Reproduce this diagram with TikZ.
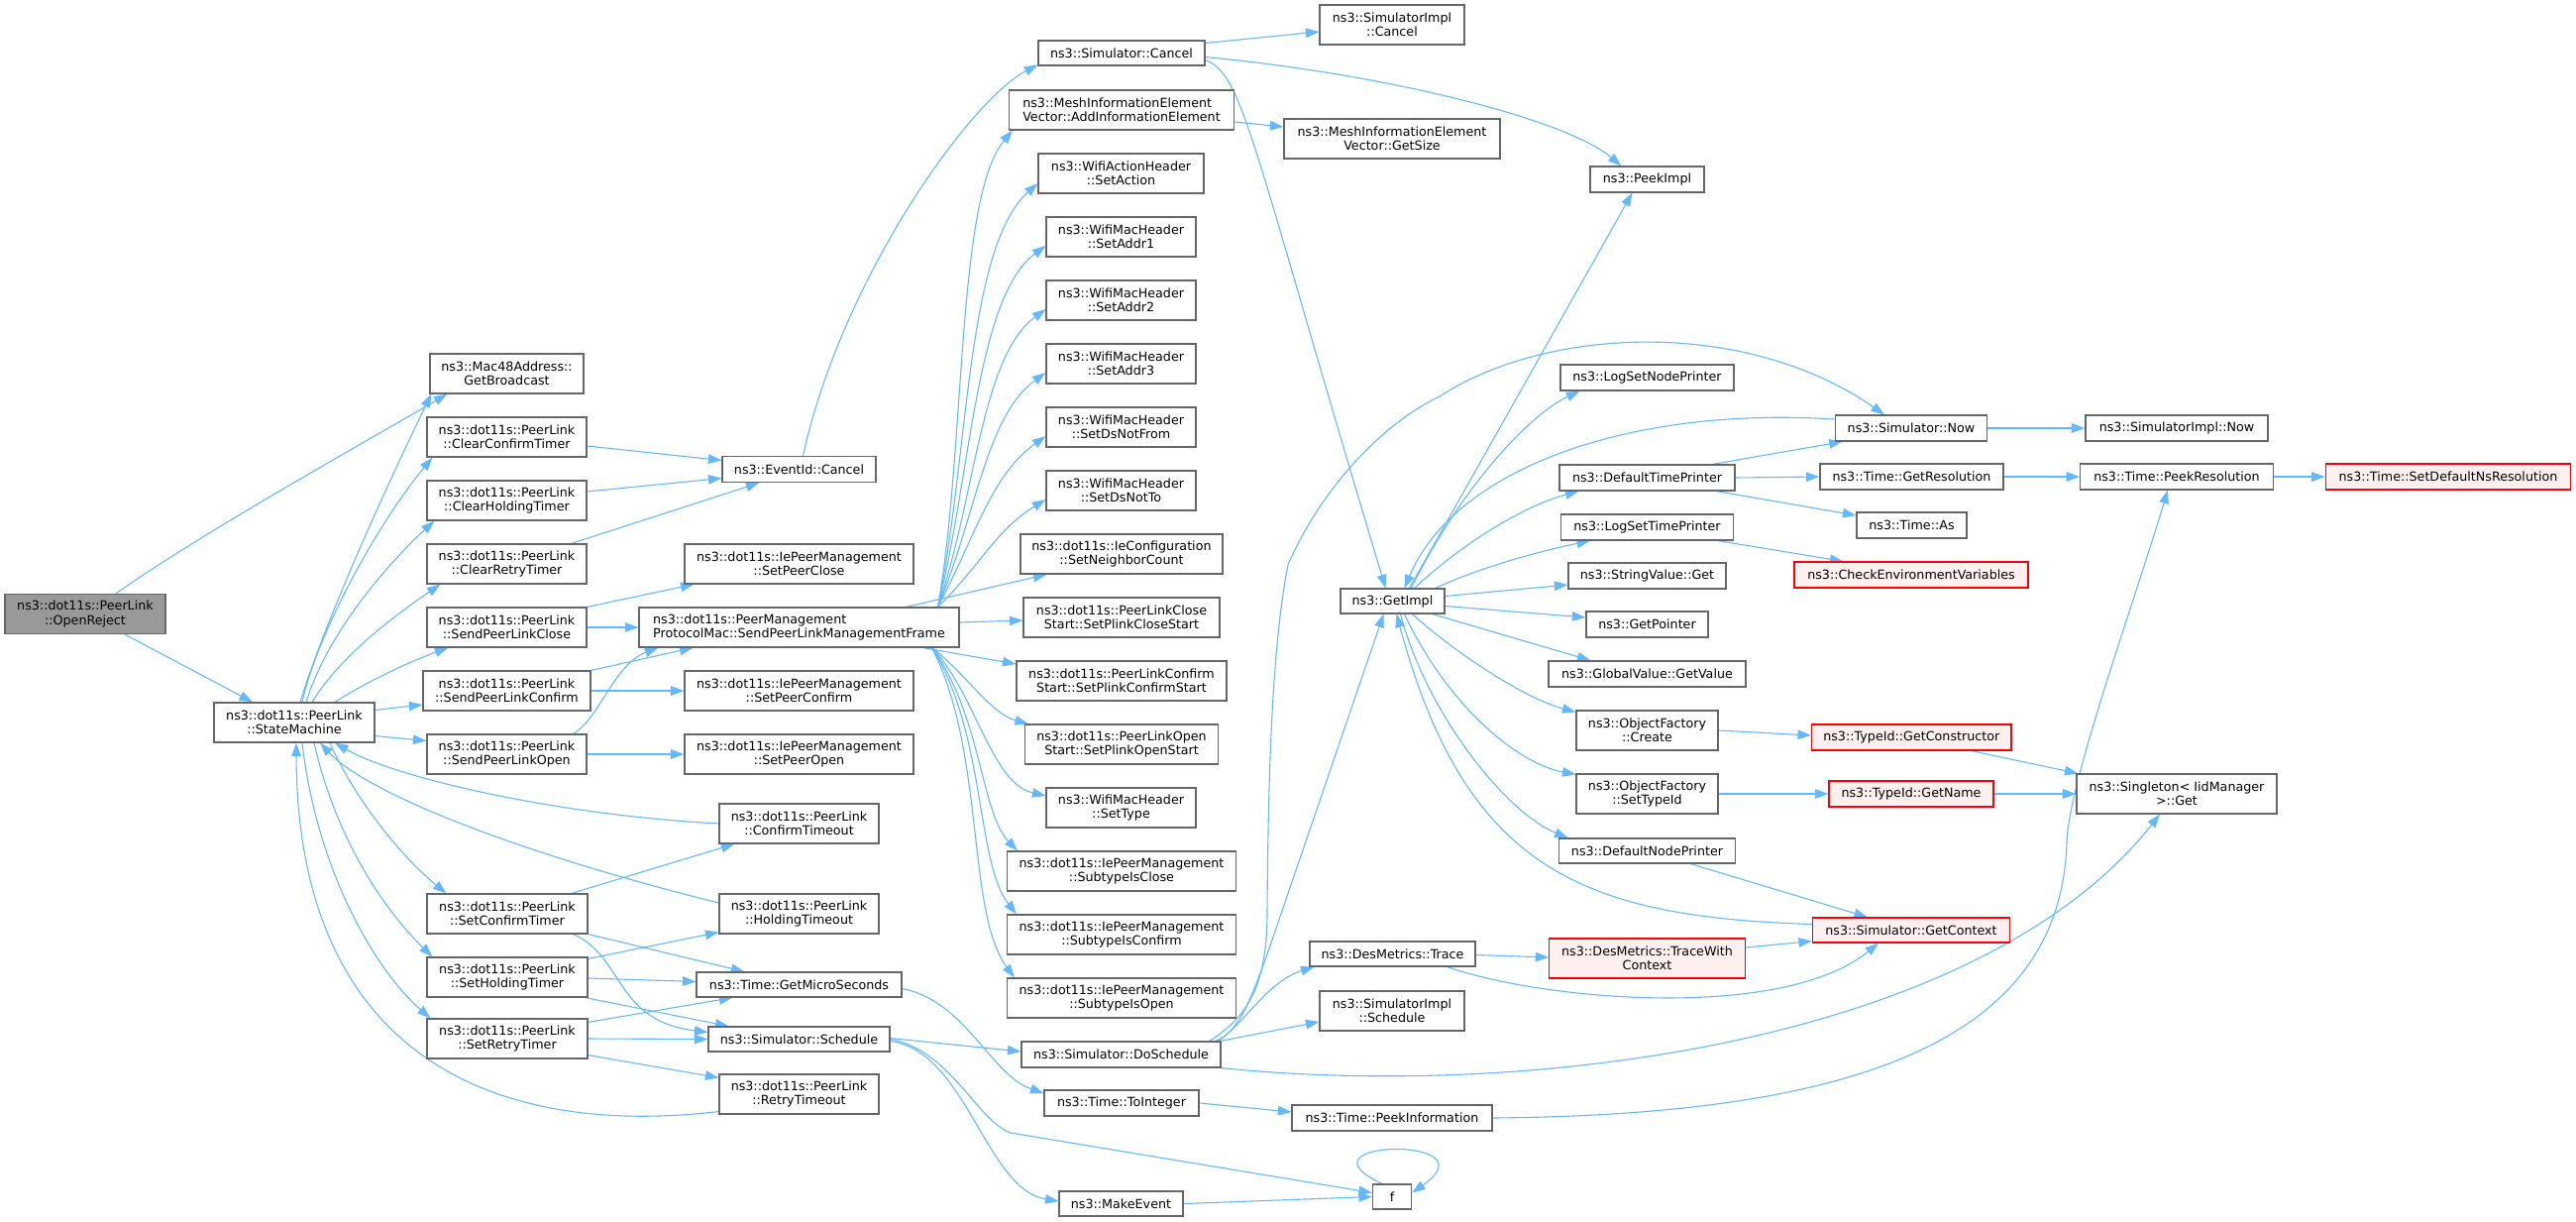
\documentclass[tikz,border=0pt]{standalone}
\usepackage{fontspec}
\setmainfont{DejaVu Sans}
\usetikzlibrary{arrows.meta,calc}
\definecolor{edgeblue}{HTML}{63B8FF}
\definecolor{boxgray}{HTML}{666666}
\definecolor{redfill}{HTML}{FFF0F0}
\definecolor{rootfill}{HTML}{999999}
\newcommand{\nodefont}{\fontsize{12.7pt}{14.5pt}\selectfont}
\pgfdeclarelayer{bg}
\pgfsetlayers{bg,main}
\tikzset{
  box/.style={draw=boxgray, fill=white, line width=1.15pt, inner sep=0pt, minimum height=40pt, align=center, font=\nodefont, text=black},
  sbox/.style={box, minimum height=26pt},
  redbox/.style={draw=red, fill=redfill},
  rootbox/.style={fill=rootfill},
  edge/.style={draw=edgeblue, line width=1.1pt, -{Triangle[length=13.5pt,width=9.5pt]}},
}
\begin{document}
\begin{tikzpicture}[x=1pt,y=-1pt]
\useasboundingbox (0,0) rectangle (2600,1232);
% column 0/1
\node[box,rootbox,minimum width=162pt] (openreject) at (86,619.5) {ns3::dot11s::PeerLink\\::OpenReject};
\node[box,minimum width=162pt] (statemachine) at (297,729) {ns3::dot11s::PeerLink\\::StateMachine};
% column 2
\node[box,minimum width=155pt] (getbroadcast) at (511.5,377) {ns3::Mac48Address::\\GetBroadcast};
\node[box,minimum width=161pt] (clearconfirm) at (511.5,441) {ns3::dot11s::PeerLink\\::ClearConfirmTimer};
\node[box,minimum width=161pt] (clearholding) at (511.5,505) {ns3::dot11s::PeerLink\\::ClearHoldingTimer};
\node[box,minimum width=161pt] (clearretry) at (511.5,569) {ns3::dot11s::PeerLink\\::ClearRetryTimer};
\node[box,minimum width=161pt] (sendclose) at (511.5,633) {ns3::dot11s::PeerLink\\::SendPeerLinkClose};
\node[box,minimum width=169pt] (sendconfirm) at (511.5,697) {ns3::dot11s::PeerLink\\::SendPeerLinkConfirm};
\node[box,minimum width=161pt] (sendopen) at (511.5,761) {ns3::dot11s::PeerLink\\::SendPeerLinkOpen};
\node[box,minimum width=162pt] (setconfirmtimer) at (512,922) {ns3::dot11s::PeerLink\\::SetConfirmTimer};
\node[box,minimum width=162pt] (setholdingtimer) at (512,986) {ns3::dot11s::PeerLink\\::SetHoldingTimer};
\node[box,minimum width=162pt] (setretrytimer) at (512,1048) {ns3::dot11s::PeerLink\\::SetRetryTimer};
% column 3
\node[sbox,minimum width=155pt] (eventcancel) at (806.5,473.5) {ns3::EventId::Cancel};
\node[box,minimum width=231pt] (setpeerclose) at (806.5,569) {ns3::dot11s::IePeerManagement\\::SetPeerClose};
\node[box,minimum width=323pt,align=left] (sendmgmt) at (806.5,633) {ns3::dot11s::PeerManagement\\ProtocolMac::SendPeerLinkManagementFrame};
\node[box,minimum width=231pt] (setpeerconfirm) at (806.5,697) {ns3::dot11s::IePeerManagement\\::SetPeerConfirm};
\node[box,minimum width=231pt] (setpeeropen) at (806.5,761) {ns3::dot11s::IePeerManagement\\::SetPeerOpen};
\node[box,minimum width=161pt] (confirmtimeout) at (806.5,831) {ns3::dot11s::PeerLink\\::ConfirmTimeout};
\node[box,minimum width=161pt] (holdingtimeout) at (806.5,922) {ns3::dot11s::PeerLink\\::HoldingTimeout};
\node[sbox,minimum width=207pt,minimum height=25pt] (getmicro) at (806.5,993.5) {ns3::Time::GetMicroSeconds};
\node[sbox,minimum width=183pt,minimum height=25pt] (schedule) at (806.5,1048.5) {ns3::Simulator::Schedule};
\node[box,minimum width=161pt] (retrytimeout) at (806.5,1104) {ns3::dot11s::PeerLink\\::RetryTimeout};
% column 4
\node[sbox,minimum width=168pt,minimum height=25pt] (simcancel) at (1132,53.5) {ns3::Simulator::Cancel};
\node[box,minimum width=227pt,align=left] (addinfo) at (1132,111) {ns3::MeshInformationElement\\Vector::AddInformationElement};
\node[box,minimum width=167pt] (setaction) at (1131.5,175) {ns3::WifiActionHeader\\::SetAction};
\node[box,minimum width=151pt] (setaddr1) at (1131.5,239) {ns3::WifiMacHeader\\::SetAddr1};
\node[box,minimum width=151pt] (setaddr2) at (1131.5,303) {ns3::WifiMacHeader\\::SetAddr2};
\node[box,minimum width=151pt] (setaddr3) at (1131.5,367) {ns3::WifiMacHeader\\::SetAddr3};
\node[box,minimum width=151pt] (setdsnotfrom) at (1131.5,431) {ns3::WifiMacHeader\\::SetDsNotFrom};
\node[box,minimum width=151pt] (setdsnotto) at (1131.5,495) {ns3::WifiMacHeader\\::SetDsNotTo};
\node[box,minimum width=204pt] (setneighbor) at (1132,559) {ns3::dot11s::IeConfiguration\\::SetNeighborCount};
\node[box,minimum width=198pt] (setplinkclose) at (1132,623) {ns3::dot11s::PeerLinkClose\\Start::SetPlinkCloseStart};
\node[box,minimum width=212pt] (setplinkconfirm) at (1132,687) {ns3::dot11s::PeerLinkConfirm\\Start::SetPlinkConfirmStart};
\node[box,minimum width=195pt] (setplinkopen) at (1132,751) {ns3::dot11s::PeerLinkOpen\\Start::SetPlinkOpenStart};
\node[box,minimum width=151pt] (settype) at (1131.5,815) {ns3::WifiMacHeader\\::SetType};
\node[box,minimum width=231pt] (subclose) at (1132,879) {ns3::dot11s::IePeerManagement\\::SubtypeIsClose};
\node[box,minimum width=231pt] (subconfirm) at (1132,943) {ns3::dot11s::IePeerManagement\\::SubtypeIsConfirm};
\node[box,minimum width=231pt] (subopen) at (1132,1007) {ns3::dot11s::IePeerManagement\\::SubtypeIsOpen};
\node[sbox,minimum width=201pt] (doschedule) at (1131.5,1064) {ns3::Simulator::DoSchedule};
\node[sbox,minimum width=156pt] (tointeger) at (1132,1113) {ns3::Time::ToInteger};
\node[sbox,minimum width=125pt,minimum height=25pt] (makeevent) at (1131.5,1214.5) {ns3::MakeEvent};
% column 5
\node[box,minimum width=146pt] (simimplcancel) at (1405,25) {ns3::SimulatorImpl\\::Cancel};
\node[box,minimum width=218pt] (getsize) at (1405,140) {ns3::MeshInformationElement\\Vector::GetSize};
\node[sbox,minimum width=105pt,minimum height=25pt] (getimpl) at (1405.5,606.5) {ns3::GetImpl};
\node[sbox,minimum width=167pt,minimum height=25pt] (destrace) at (1405.5,962.5) {ns3::DesMetrics::Trace};
\node[box,minimum width=146pt] (simimplschedule) at (1405,1020) {ns3::SimulatorImpl\\::Schedule};
\node[sbox,minimum width=202pt] (peekinfo) at (1405,1128) {ns3::Time::PeekInformation};
\node[sbox,minimum width=39pt,minimum height=25pt] (f) at (1405,1207.5) {f};
% column 6
\node[sbox,minimum width=115pt] (peekimpl) at (1662.5,181) {ns3::PeekImpl};
\node[sbox,minimum width=175pt] (logsetnode) at (1662.5,381) {ns3::LogSetNodePrinter};
\node[sbox,minimum width=177pt] (defaulttime) at (1662.5,482) {ns3::DefaultTimePrinter};
\node[sbox,minimum width=174pt] (logsettime) at (1662.5,532) {ns3::LogSetTimePrinter};
\node[sbox,minimum width=159pt] (stringget) at (1662.5,581) {ns3::StringValue::Get};
\node[sbox,minimum width=123pt] (getpointer) at (1662.5,630) {ns3::GetPointer};
\node[sbox,minimum width=199pt] (globalvalue) at (1662.5,680) {ns3::GlobalValue::GetValue};
\node[box,minimum width=143pt] (ofcreate) at (1662.5,737) {ns3::ObjectFactory\\::Create};
\node[box,minimum width=143pt] (ofsettypeid) at (1662.5,801) {ns3::ObjectFactory\\::SetTypeId};
\node[sbox,minimum width=178.5pt,minimum height=25pt] (defaultnode) at (1662.5,858.5) {ns3::DefaultNodePrinter};
\node[box,redbox,minimum width=197.5pt] (tracewith) at (1662.5,967) {ns3::DesMetrics::TraceWith\\Context};
% column 7
\node[sbox,minimum width=153.5pt] (simnow) at (1929,432) {ns3::Simulator::Now};
\node[sbox,minimum width=185pt] (getresolution) at (1929.5,481) {ns3::Time::GetResolution};
\node[sbox,minimum width=111pt] (timeas) at (1929.5,530) {ns3::Time::As};
\node[sbox,redbox,minimum width=236pt] (checkenv) at (1929,580) {ns3::CheckEnvironmentVariables};
\node[sbox,redbox,minimum width=201.4pt] (getconstructor) at (1929.3,744) {ns3::TypeId::GetConstructor};
\node[sbox,redbox,minimum width=166pt] (getname) at (1929,801) {ns3::TypeId::GetName};
\node[sbox,redbox,minimum width=199pt,minimum height=25pt] (getcontext) at (1929,938.5) {ns3::Simulator::GetContext};
% column 8
\node[sbox,minimum width=184pt] (simimplnow) at (2197,432) {ns3::SimulatorImpl::Now};
\node[sbox,minimum width=194.5pt] (peekres) at (2197,481) {ns3::Time::PeekResolution};
\node[box,minimum width=202pt] (singleton) at (2197,801) {ns3::Singleton\textless{} IidManager\\\textgreater::Get};
% column 9
\node[sbox,redbox,minimum width=247.5pt] (setdefaultns) at (2471,481) {ns3::Time::SetDefaultNsResolution};

\begin{pgfonlayer}{bg}
% OpenReject
\draw[edge] ($(openreject.north)+(31,0)$) .. controls (200,540) and (370,445) .. ($(getbroadcast.south west)+(18,0)$);
\draw[edge] ($(openreject.south)+(40,0)$) -- ($(statemachine.north)+(-42,0)$);
% StateMachine out
\draw[edge] ($(statemachine.north)+(6,0)$) .. controls (330,620) and (400,470) .. ($(getbroadcast.south west)+(2,0)$);
\draw[edge] ($(statemachine.north)+(8,0)$) .. controls (320,640) and (380,530) .. ($(clearconfirm.south west)+(6,0)$);
\draw[edge] ($(statemachine.north)+(12,0)$) .. controls (330,640) and (390,570) .. ($(clearholding.south west)+(8,0)$);
\draw[edge] ($(statemachine.north)+(18,0)$) .. controls (345,660) and (400,620) .. ($(clearretry.south west)+(14,0)$);
\draw[edge] ($(statemachine.north)+(41,0)$) .. controls (375,685) and (420,665) .. ($(sendclose.south west)+(22,0)$);
\draw[edge] ($(statemachine.north east)+(0,8)$) -- ($(sendconfirm.west)+(0,14)$);
\draw[edge] ($(statemachine.south east)+(0,-7)$) -- ($(sendopen.north west)+(0,7)$);
\draw[edge] ($(statemachine.south)+(36,0)$) .. controls (355,800) and (400,860) .. ($(setconfirmtimer.north west)+(20,0)$);
\draw[edge] ($(statemachine.south)+(20,0)$) .. controls (340,850) and (390,920) .. ($(setholdingtimer.north west)+(6,0)$);
\draw[edge] ($(statemachine.south)+(8,0)$) .. controls (320,880) and (380,980) .. ($(setretrytimer.north west)+(4,0)$);
% back edges
\draw[edge] (confirmtimeout.west) .. controls (560,822) and (400,785) .. ($(statemachine.south)+(41,0)$);
\draw[edge] ($(holdingtimeout.west)+(0,-11)$) .. controls (520,860) and (370,800) .. ($(statemachine.south)+(26,0)$);
\draw[edge] ($(retrytimeout.south west)+(0,-3)$) .. controls (480,1150) and (300,1050) .. ($(statemachine.south)+(2,0)$);
% Send*
\draw[edge] (sendclose.north east) -- ($(setpeerclose.south west)+(10,0)$);
\draw[edge] (sendclose.east) -- (sendmgmt.west);
\draw[edge] (sendconfirm.north east) -- ($(sendmgmt.south west)+(55,0)$);
\draw[edge] (sendconfirm.east) -- (setpeerconfirm.west);
\draw[edge] ($(sendopen.north east)+(-14,0)$) .. controls (605,725) and (620,670) .. ($(sendmgmt.south west)+(20,0)$);
\draw[edge] (sendopen.east) -- (setpeeropen.west);
% Clear*
\draw[edge] ($(clearconfirm.east)+(0,9)$) -- ($(eventcancel.west)+(0,-9)$);
\draw[edge] ($(clearholding.east)+(0,-9)$) -- ($(eventcancel.west)+(0,9)$);
\draw[edge] ($(clearretry.north east)+(-16,0)$) -- ($(eventcancel.south west)+(38,0)$);
\draw[edge] ($(eventcancel.north)+(4,0)$) .. controls (850,280) and (980,100) .. ($(simcancel.west)+(0,12)$);
% Set*Timer
\draw[edge] ($(setconfirmtimer.north east)+(-17,0)$) -- ($(confirmtimeout.south west)+(16,0)$);
\draw[edge] (setconfirmtimer.south east) -- ($(getmicro.north west)+(49,0)$);
\draw[edge] ($(setconfirmtimer.south east)+(-15,0)$) .. controls (630,965) and (620,1030) .. ($(schedule.west)+(0,-7)$);
\draw[edge] ($(setholdingtimer.north east)+(0,2)$) -- ($(holdingtimeout.south west)+(0,-2)$);
\draw[edge] ($(setholdingtimer.east)+(0,1)$) -- ($(getmicro.west)+(0,-3)$);
\draw[edge] ($(setholdingtimer.south east)+(-3,0)$) -- ($(schedule.north west)+(21,0)$);
\draw[edge] ($(setretrytimer.north east)+(0,4)$) -- ($(getmicro.south west)+(37,0)$);
\draw[edge] (setretrytimer.east) -- (schedule.west);
\draw[edge] ($(setretrytimer.south east)+(0,-4)$) -- ($(retrytimeout.north west)+(0,4)$);
% SendMgmt fan up
\draw[edge] ($(sendmgmt.north east)+(-22,0)$) .. controls (975,450) and (965,200) .. ($(addinfo.south west)+(4,0)$);
\draw[edge] ($(sendmgmt.north east)+(-22,0)$) .. controls (978,460) and (975,250) .. ($(setaction.west)+(0,10)$);
\draw[edge] ($(sendmgmt.north east)+(-22,0)$) .. controls (980,480) and (985,300) .. ($(setaddr1.west)+(0,9)$);
\draw[edge] ($(sendmgmt.north east)+(-22,0)$) .. controls (985,500) and (990,360) .. ($(setaddr2.west)+(0,9)$);
\draw[edge] ($(sendmgmt.north east)+(-22,0)$) .. controls (985,520) and (995,420) .. ($(setaddr3.west)+(0,9)$);
\draw[edge] ($(sendmgmt.north east)+(-22,0)$) .. controls (985,540) and (1000,480) .. ($(setdsnotfrom.west)+(0,9)$);
\draw[edge] ($(sendmgmt.north east)+(-22,0)$) .. controls (990,570) and (1005,535) .. ($(setdsnotto.west)+(0,9)$);
\draw[edge] ($(sendmgmt.north east)+(-54,0)$) -- ($(setneighbor.south west)+(27,0)$);
\draw[edge] ($(sendmgmt.east)+(0,-5)$) -- ($(setplinkclose.west)+(0,3)$);
\draw[edge] ($(sendmgmt.south east)+(-37,0)$) -- ($(setplinkconfirm.west)+(0,-17)$);
% SendMgmt fan down
\draw[edge] ($(sendmgmt.south east)+(-28,0)$) .. controls (975,680) and (1000,720) .. ($(setplinkopen.north west)+(4,0)$);
\draw[edge] ($(sendmgmt.south east)+(-28,0)$) .. controls (985,700) and (1000,790) .. ($(settype.west)+(0,-12)$);
\draw[edge] ($(sendmgmt.south east)+(-28,0)$) .. controls (990,720) and (990,820) .. ($(subclose.north west)+(11,0)$);
\draw[edge] ($(sendmgmt.south east)+(-28,0)$) .. controls (995,740) and (985,870) .. ($(subconfirm.north west)+(10,0)$);
\draw[edge] ($(sendmgmt.south east)+(-28,0)$) .. controls (995,760) and (975,920) .. ($(subopen.north west)+(8,0)$);
% misc
\draw[edge] ($(addinfo.east)+(0,12)$) -- ($(getsize.west)+(0,-12)$);
\draw[edge] ($(simcancel.north east)+(0,3)$) -- ($(simimplcancel.west)+(0,7)$);
\draw[edge] ($(simcancel.east)+(0,4)$) .. controls (1400,75) and (1580,120) .. ($(peekimpl.north west)+(32,0)$);
\draw[edge] ($(simcancel.east)+(0,7)$) .. controls (1255,75) and (1262,140) .. ($(getimpl.north)+(-7,0)$);
\draw[edge] ($(getmicro.east)+(0,4)$) .. controls (975,1010) and (1000,1085) .. ($(tointeger.west)+(0,-10)$);
\draw[edge] ($(schedule.east)+(0,-1)$) -- ($(doschedule.west)+(0,-3)$);
\draw[edge] (schedule.east) .. controls (960,1060) and (985,1130) .. (1020,1143) -- ($(f.west)+(0,-4)$);
\draw[edge] ($(schedule.east)+(0,2)$) .. controls (975,1060) and (995,1200) .. ($(makeevent.west)+(0,-2.5)$);
\draw[edge] (makeevent.east) -- (f.west);
\draw[edge] ($(f.north west)+(10,0)$) .. controls (1300,1150) and (1510,1145) .. ($(f.east)+(0,-4)$);
\draw[edge] (tointeger.east) -- ($(peekinfo.west)+(0,-6)$);
% DoSchedule
\draw[edge] ($(doschedule.north east)+(-3,0)$) .. controls (1258,1030) and (1280,990) .. ($(destrace.south west)+(5,0)$);
\draw[edge] ($(doschedule.north east)+(-1,0)$) -- ($(simimplschedule.west)+(0,11)$);
\draw[edge] ($(doschedule.north east)+(-6,0)$) .. controls (1250,1042) and (1262,1010) .. (1280,960) -- ($(getimpl.south)+(-9,0)$);
\draw[edge] ($(doschedule.north east)+(-12,0)$) .. controls (1262,1025) and (1279,990) .. (1279,920) .. controls (1280,780) and (1284,650) .. (1300,570) .. controls (1330,500) and (1390,430) .. (1453,400) .. controls (1560,330) and (1760,320) .. ($(simnow.north)+(-27,0)$);
\draw[edge] (doschedule.south east) .. controls (1550,1110) and (2000,1050) .. ($(singleton.south)+(-17,0)$);
% DesMetrics
\draw[edge] ($(destrace.east)+(0,1)$) -- ($(tracewith.west)+(0,-1)$);
\draw[edge] ($(destrace.south east)+(-29,0)$) .. controls (1560,1010) and (1800,1030) .. ($(getcontext.south)+(-33,0)$);
\draw[edge] ($(tracewith.east)+(0,-11)$) -- ($(getcontext.south west)+(0,-2)$);
\draw[edge] ($(defaultnode.south east)+(-46,0)$) -- ($(getcontext.north)+(-44,0)$);
\draw[edge] ($(getcontext.west)+(0,-6)$) .. controls (1600,925) and (1480,880) .. ($(getimpl.south)+(4,0)$);
\draw[edge] (peekinfo.east) .. controls (1850,1125) and (2080,1060) .. (2086,850) .. controls (2088,790) and (2150,620) .. ($(peekres.south)+(-9,0)$);
% GetImpl
\draw[edge] ($(getimpl.north)+(17,0)$) -- ($(peekimpl.south)+(-15,0)$);
\draw[edge] ($(getimpl.north)+(19,0)$) .. controls (1470,500) and (1540,420) .. ($(logsetnode.south west)+(20,0)$);
\draw[edge] ($(simnow.west)+(0,-9)$) .. controls (1650,410) and (1470,470) .. ($(getimpl.north)+(12,0)$);
\draw[edge] ($(getimpl.north)+(22,0)$) .. controls (1480,545) and (1540,510) .. ($(defaulttime.south west)+(20,0)$);
\draw[edge] ($(getimpl.north east)+(-10,0)$) .. controls (1500,570) and (1560,555) .. ($(logsettime.south west)+(30,0)$);
\draw[edge] ($(getimpl.east)+(0,-5)$) -- ($(stringget.west)+(0,9)$);
\draw[edge] ($(getimpl.east)+(0,5)$) -- ($(getpointer.west)+(0,-7)$);
\draw[edge] ($(getimpl.south east)+(-13,0)$) -- ($(globalvalue.north west)+(43,0)$);
\draw[edge] ($(getimpl.south)+(20,0)$) .. controls (1470,660) and (1540,705) .. ($(ofcreate.north west)+(0,2)$);
\draw[edge] ($(getimpl.south)+(12,0)$) .. controls (1460,710) and (1530,770) .. ($(ofsettypeid.north west)+(0,1)$);
\draw[edge] ($(getimpl.south)+(8,0)$) .. controls (1440,720) and (1520,820) .. ($(defaultnode.north west)+(10,0)$);
% right side
\draw[edge] ($(defaulttime.north east)+(-23,0)$) -- ($(simnow.south west)+(8,0)$);
\draw[edge] (defaulttime.east) -- (getresolution.west);
\draw[edge] ($(defaulttime.south east)+(-19,0)$) -- ($(timeas.west)+(0,-10)$);
\draw[edge] (simnow.east) -- (simimplnow.west);
\draw[edge] (getresolution.east) -- (peekres.west);
\draw[edge] (peekres.east) -- (setdefaultns.west);
\draw[edge] ($(logsettime.south east)+(-16,0)$) -- ($(checkenv.north west)+(50,0)$);
\draw[edge] (ofcreate.east) -- ($(getconstructor.west)+(0,-2)$);
\draw[edge] (ofsettypeid.east) -- (getname.west);
\draw[edge] ($(getconstructor.south east)+(-41,0)$) -- ($(singleton.north west)+(2,0)$);
\draw[edge] (getname.east) -- (singleton.west);
\end{pgfonlayer}
\end{tikzpicture}
\end{document}
